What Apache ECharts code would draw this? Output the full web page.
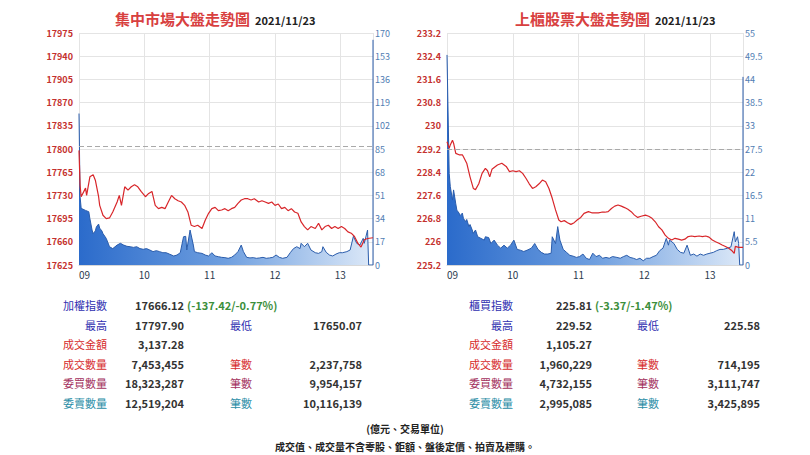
<!DOCTYPE html>
<html><head><meta charset="utf-8">
<script src="https://cdn.jsdelivr.net/npm/echarts@6/dist/echarts.min.js"></script>
<style>
body{margin:0;background:#fff;width:810px;height:455px;overflow:hidden;font-family:"Noto Sans CJK TC","Noto Sans",sans-serif;}
#chart{position:absolute;left:0;top:0;width:810px;height:455px;}
.c{position:absolute;font-size:11px;line-height:14px;white-space:nowrap;}
.r{text-align:right;}
.v{color:#333;font-weight:600;}
.chg{color:#3c8f3c;font-weight:600;}
.foot{position:absolute;left:0;width:810px;text-align:center;font-size:10px;line-height:13px;color:#222;font-weight:600;}
</style>
</head><body>
<div id="chart"></div>
<div id="tables"></div>
<div class="foot" style="top:422px">(億元、交易單位)</div>
<div class="foot" style="top:440px">成交值、成交量不含零股、鉅額、盤後定價、拍賣及標購。</div>
<script>
// ---------- data ----------
const hourLabels = ['09','10','11','12','13'];
const tradeDate = '2021/11/23';

const tseTitle = '集中市場大盤走勢圖';
const tsePrevClose = 17803.54;
const tseIdxMin = 17625, tseIdxMax = 17975, tseIdxStep = 35;
const tseVolMax = 170, tseVolStep = 17;
const tseIdxTime = [0,1,2,6,7,10,13,15,18,19,22,25,28,31,35,37,39,42,45,48,51,54,57,61,64,67,70,73,76,79,82,85,88,91,94,97,100,103,106,109,113,116,119,122,125,128,131,134,137,140,143,146,149,152,155,158,161,165,168,171,174,177,180,183,186,189,192,195,198,201,204,207,210,213,217,220,223,226,229,232,235,238,241,244,247,250,253,256,259,262,265,270];
const tseIdx = [17797.9,17745,17728,17741,17730,17758,17761,17753,17728,17715,17700,17695,17696,17705,17720,17730,17715,17743,17738,17743,17746,17743,17736,17728,17733,17736,17715,17710,17712,17710,17720,17730,17725,17722,17720,17715,17705,17685,17683,17685,17680,17693,17703,17710,17712,17707,17708,17710,17707,17710,17712,17718,17723,17725,17725,17723,17725,17720,17722,17720,17718,17720,17715,17717,17710,17712,17707,17710,17705,17703,17690,17683,17678,17683,17680,17688,17678,17683,17685,17680,17683,17680,17683,17680,17675,17673,17668,17658,17652,17663,17665,17666.12];
const tseVolTime = [0,1,2,6,9,10,12,13,15,16,18,19,21,22,24,25,28,31,35,38,41,44,47,50,53,56,59,62,65,68,71,74,77,80,83,87,90,93,96,98,99,102,105,106,109,113,116,119,122,125,128,131,134,137,140,143,146,149,151,154,157,160,163,166,169,172,175,178,181,184,187,191,194,197,200,203,204,207,210,213,217,220,223,224,227,230,233,236,239,242,246,249,252,255,258,261,262,265,266,270,270];
const tseVol = [111,50,41.5,40,39,34,25.6,23,25,28,30,27,25,23,20.7,19.5,13.4,12,14.6,15.9,14.6,13.7,13.4,12.9,13.4,12,11.5,12,11,9.8,10.5,9.8,9,9,8,6.6,7.3,9,20.7,21,11,25.6,14.6,9.8,9,8.5,7.3,6.6,9,6.6,6.1,5.6,5.4,4.9,5.6,7.3,9.8,14.6,9.8,5.6,5.2,5.4,4.9,5.2,5.6,4.9,5.2,5.6,7.3,5.6,4.9,5.6,9,12,13.4,12,15.9,13.4,15.9,11,9,8.5,9.8,13.4,9.3,7.3,6.6,8,9,9,9.8,11,21,15.9,14.6,19.5,15.9,25.6,0,0,165];

const otcTitle = '上櫃股票大盤走勢圖';
const otcPrevClose = 229.18;
const otcIdxMin = 225.2, otcIdxMax = 233.2, otcIdxStep = 0.8;
const otcVolMax = 55, otcVolStep = 5.5;
const otcIdxTime = [0,2,3,5,6,8,11,14,15,18,21,24,26,29,32,35,37,39,41,46,50,54,57,60,63,66,69,72,75,78,81,84,87,90,93,96,99,102,104,107,110,113,116,119,122,125,129,132,135,138,141,144,147,150,153,156,159,162,165,168,171,174,177,181,184,187,190,193,196,199,202,205,208,211,214,217,220,223,226,230,233,236,239,242,245,248,251,254,257,260,262,263,266,270];
const otcIdx = [229.45,229.22,229.34,229.5,229.4,229.05,229.0,229.0,228.93,228.71,228.24,227.84,227.8,228.0,228.36,228.53,228.45,228.24,228.5,228.65,228.71,228.6,228.42,228.45,228.42,228.45,228.36,228.19,228.0,227.84,227.9,228.0,228.13,228.07,227.84,227.5,227.1,226.75,226.69,226.73,226.66,226.6,226.66,226.76,226.84,226.98,227.04,227.0,227.0,227.0,227.02,227.02,227.04,227.15,227.23,227.27,227.23,227.18,227.12,227.04,226.92,226.84,226.88,226.92,226.88,226.81,226.69,226.52,226.41,226.23,226.12,226.06,226.12,226.09,226.06,226.09,226.18,226.2,226.18,226.2,226.18,226.2,226.16,226.06,226.0,225.95,225.89,225.84,225.78,225.69,225.6,225.84,225.81,225.81];
const otcVolTime = [0,2,3,5,6,8,9,11,12,14,15,17,18,20,21,23,24,26,28,31,34,35,38,40,43,46,49,52,55,58,61,64,67,70,73,77,80,83,86,89,92,95,96,99,101,103,106,109,112,115,118,121,124,127,130,133,136,139,142,145,148,151,155,158,161,164,167,170,173,176,179,182,185,188,191,194,197,200,202,203,207,210,213,216,219,222,225,228,231,234,237,240,243,246,249,252,256,259,262,263,265,266,267,270,270];
const otcVol = [49.8,21.7,18.6,15.4,17.8,14.5,13,12.3,11.7,12.3,11,10.3,10.8,9.1,9.6,8.3,7.5,8.3,6.7,6.3,5.9,6.7,6.5,5.1,5.9,4.7,4,4.7,4,4.7,5.9,3.7,3.5,3.2,3.5,4,5.1,3.7,3,2.6,2.6,2.8,6.7,5.1,9.1,5.9,3.7,3,2.3,2.1,1.8,2,2.6,1.6,1.3,2.8,2,2.3,1.6,1.8,1.6,2,1.8,1.6,2,2.3,1.8,1.6,1.3,1.6,1.0,1.6,1.6,2,2.3,3.4,4,6.3,4.7,5.9,5.1,3.7,3,2.8,4.7,2.3,2.6,2.1,2.6,2.3,2.6,2.8,3,3.4,3.7,3.7,4,4.3,7.9,5.5,6.7,5.1,0,0,44.6];

// table rows: [label1, value1, label2, value2, labelColorClass]
const tseRows = [
  ['加權指數','17666.12','','', 'b'],
  ['最高','17797.90','最低','17650.07','b'],
  ['成交金額','3,137.28','','', 'red'],
  ['成交數量','7,453,455','筆數','2,237,758','red'],
  ['委買數量','18,323,287','筆數','9,954,157','mar'],
  ['委賣數量','12,519,204','筆數','10,116,139','teal']
];
const tseChange = '(-137.42/-0.77%)';
const otcRows = [
  ['櫃買指數','225.81','','', 'b'],
  ['最高','229.52','最低','225.58','b'],
  ['成交金額','1,105.27','','', 'red'],
  ['成交數量','1,960,229','筆數','714,195','red'],
  ['委買數量','4,732,155','筆數','3,111,747','mar'],
  ['委賣數量','2,995,085','筆數','3,425,895','teal']
];
const otcChange = '(-3.37/-1.47%)';

// ---------- chart ----------
const zip = (a, b) => a.map((t, i) => [t, b[i]]);
const labelColors = {b:'#2e2eb0', red:'#d62b2b', mar:'#a3305c', teal:'#2a8da6'};

const chart = echarts.init(document.getElementById('chart'), null, {renderer:'svg'});
const fam = '"Noto Sans CJK TC","Noto Sans",sans-serif';
const gridLine = {show:true, lineStyle:{color:'#e4e4e4', width:1}};

function xAxis(g){
  return {type:'value', gridIndex:g, min:0, max:270, interval:60,
    axisLine:{show:true, lineStyle:{color:'#d8d8d8'}}, axisTick:{show:false},
    splitLine:gridLine,
    axisLabel:{color:'#2c3a4e', fontSize:10, margin:4, fontFamily:fam, alignMinLabel:'left',
      formatter:v => (v % 60 === 0 && hourLabels[v/60]) ? hourLabels[v/60] : ''}};
}
function yLeft(g, mn, mx, st){
  return {type:'value', gridIndex:g, position:'left', min:mn, max:mx, interval:st,
    axisLine:{show:false}, axisTick:{show:false}, splitLine:gridLine,
    axisLabel:{color:'#c4312e', fontSize:9, fontWeight:'bold', margin:6, fontFamily:fam, formatter:v => String(v)}};
}
function yRight(g, mx, st){
  return {type:'value', gridIndex:g, position:'right', min:0, max:mx, interval:st,
    axisLine:{show:false}, axisTick:{show:false}, splitLine:{show:false},
    axisLabel:{color:'#4f7db3', fontSize:9, margin:2, fontFamily:fam, formatter:v => String(v)}};
}
function volSeries(xi, yi, data){
  return {type:'line', xAxisIndex:xi, yAxisIndex:yi, data:data, showSymbol:false, z:2,
    lineStyle:{color:'#2a5cab', width:1},
    areaStyle:{opacity:1, color:new echarts.graphic.LinearGradient(0,0,1,0,[
      {offset:0,color:'#2b6bcb'},{offset:0.5,color:'#6f9fdf'},{offset:1,color:'#dde9f8'}])},
    animation:false};
}
function idxSeries(xi, yi, data, prev){
  return {type:'line', xAxisIndex:xi, yAxisIndex:yi, data:data, showSymbol:false, z:3,
    lineStyle:{color:'#d8262a', width:1.2}, animation:false,
    markLine:{silent:true, symbol:'none', label:{show:false}, animation:false,
      lineStyle:{color:'#a9a9a9', type:[5,3], width:1.2}, data:[{yAxis:prev}]}};
}

chart.setOption({
  animation:false,
  title:[
    {text:'{a|'+tseTitle+'} {b|'+tradeDate+'}', left:110, top:4,
     textStyle:{rich:{a:{fontSize:15, fontWeight:'bold', color:'#d8403f', fontFamily:fam},
                      b:{fontSize:11, fontWeight:'bold', color:'#222', fontFamily:fam, padding:[3,0,0,0]}}}},
    {text:'{a|'+otcTitle+'} {b|'+tradeDate+'}', left:510, top:4,
     textStyle:{rich:{a:{fontSize:15, fontWeight:'bold', color:'#d8403f', fontFamily:fam},
                      b:{fontSize:11, fontWeight:'bold', color:'#222', fontFamily:fam, padding:[3,0,0,0]}}}}
  ],
  grid:[{left:79, top:33, width:294, height:232}, {left:447, top:33, width:296, height:232}],
  xAxis:[xAxis(0), xAxis(1)],
  yAxis:[yLeft(0,tseIdxMin,tseIdxMax,tseIdxStep), yRight(0,tseVolMax,tseVolStep),
         yLeft(1,otcIdxMin,otcIdxMax,otcIdxStep), yRight(1,otcVolMax,otcVolStep)],
  series:[
    volSeries(0,1,zip(tseVolTime,tseVol)),
    idxSeries(0,0,zip(tseIdxTime,tseIdx),tsePrevClose),
    volSeries(1,3,zip(otcVolTime,otcVol)),
    idxSeries(1,2,zip(otcIdxTime,otcIdx),otcPrevClose)
  ]
});

// ---------- tables ----------
function addTable(rows, change, pos){
  const host = document.getElementById('tables');
  rows.forEach((r, i) => {
    const top = 298 + i*19.5;
    const col = labelColors[r[4]];
    let html = '';
    html += `<div class="c r" style="left:${pos.l1-70}px;width:70px;top:${top}px;color:${col}">${r[0]}</div>`;
    html += `<div class="c r v" style="left:${pos.v1-90}px;width:90px;top:${top}px">${r[1]}</div>`;
    if (i === 0) html += `<div class="c chg" style="left:${pos.v1+3}px;top:${top}px">${change}</div>`;
    if (r[2]) {
      html += `<div class="c" style="left:${pos.l2}px;top:${top}px;color:${col}">${r[2]}</div>`;
      html += `<div class="c r v" style="left:${pos.v2-100}px;width:100px;top:${top}px">${r[3]}</div>`;
    }
    host.insertAdjacentHTML('beforeend', html);
  });
}
addTable(tseRows, tseChange, {l1:107, v1:184, l2:230, v2:362});
addTable(otcRows, otcChange, {l1:513, v1:592, l2:637, v2:760});
</script>
</body></html>
